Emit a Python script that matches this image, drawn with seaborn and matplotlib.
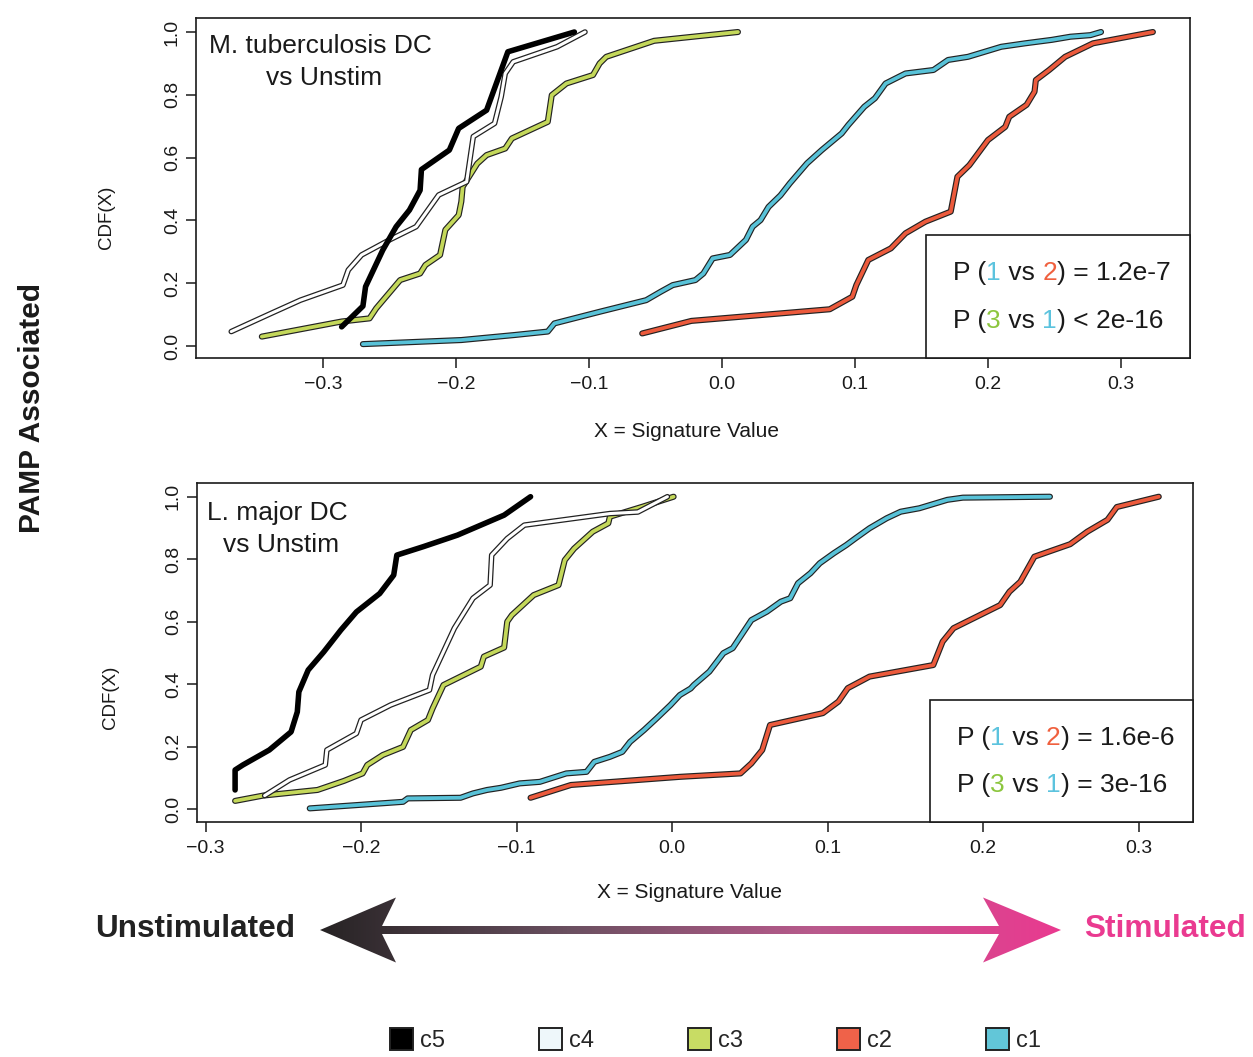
import matplotlib
matplotlib.use("Agg")
import numpy as np
import pandas as pd
import seaborn as sns
import matplotlib.pyplot as plt
import matplotlib.patheffects as pe
import matplotlib.transforms as mtransforms
from matplotlib.patches import Rectangle, Polygon, Patch
from matplotlib.colors import LinearSegmentedColormap

# ---------------- data ----------------
clusters = ["c5", "c4", "c3", "c2", "c1"]

# Top panel: M. tuberculosis DC vs Unstim
top_c5_x = [-0.286, -0.270, -0.268, -0.255, -0.245, -0.235, -0.227, -0.226, -0.205, -0.198, -0.177, -0.161, -0.111]
top_c5_y = [0.061, 0.127, 0.189, 0.306, 0.380, 0.433, 0.496, 0.562, 0.624, 0.693, 0.751, 0.937, 1.0]

top_c4_x = [-0.369, -0.339, -0.317, -0.285, -0.281, -0.271, -0.250, -0.230, -0.213, -0.192, -0.187, -0.171, -0.166, -0.163, -0.157, -0.124, -0.103]
top_c4_y = [0.046, 0.104, 0.146, 0.194, 0.242, 0.290, 0.338, 0.380, 0.481, 0.523, 0.667, 0.709, 0.794, 0.868, 0.905, 0.953, 1.0]

top_c3_x = [-0.346, -0.286, -0.265, -0.260, -0.242, -0.227, -0.223, -0.212, -0.208, -0.198, -0.196, -0.195, -0.184, -0.177, -0.163, -0.158, -0.131, -0.128, -0.117, -0.097, -0.092, -0.087, -0.051, 0.012]
top_c3_y = [0.030, 0.078, 0.088, 0.120, 0.210, 0.231, 0.258, 0.290, 0.370, 0.417, 0.460, 0.507, 0.581, 0.608, 0.629, 0.661, 0.714, 0.799, 0.836, 0.863, 0.900, 0.921, 0.972, 1.0]

top_c2_x = [-0.060, -0.023, 0.081, 0.098, 0.101, 0.110, 0.127, 0.138, 0.153, 0.172, 0.177, 0.186, 0.200, 0.213, 0.216, 0.229, 0.235, 0.236, 0.246, 0.258, 0.279, 0.324]
top_c2_y = [0.040, 0.080, 0.117, 0.157, 0.194, 0.274, 0.311, 0.359, 0.396, 0.428, 0.539, 0.576, 0.656, 0.698, 0.730, 0.768, 0.810, 0.847, 0.879, 0.921, 0.964, 1.0]

top_c1_x = [-0.270, -0.196, -0.156, -0.131, -0.126, -0.092, -0.057, -0.046, -0.037, -0.020, -0.014, -0.007, 0.006, 0.018, 0.023, 0.029, 0.035, 0.044, 0.051, 0.064, 0.075, 0.090, 0.095, 0.107, 0.115, 0.123, 0.138, 0.159, 0.170, 0.185, 0.210, 0.228, 0.248, 0.262, 0.277, 0.285]
top_c1_y = [0.006, 0.019, 0.035, 0.046, 0.072, 0.109, 0.146, 0.173, 0.194, 0.210, 0.231, 0.279, 0.290, 0.338, 0.380, 0.401, 0.443, 0.480, 0.518, 0.582, 0.624, 0.677, 0.704, 0.762, 0.789, 0.836, 0.868, 0.879, 0.911, 0.921, 0.953, 0.964, 0.975, 0.985, 0.990, 1.0]

# Bottom panel: L. major DC vs Unstim
bot_c5_x = [-0.281, -0.281, -0.276, -0.259, -0.245, -0.241, -0.240, -0.234, -0.224, -0.213, -0.203, -0.188, -0.179, -0.177, -0.160, -0.138, -0.108, -0.091]
bot_c5_y = [0.061, 0.125, 0.141, 0.189, 0.247, 0.311, 0.375, 0.445, 0.503, 0.573, 0.631, 0.690, 0.749, 0.813, 0.840, 0.877, 0.941, 1.0]

bot_c4_x = [-0.262, -0.246, -0.223, -0.222, -0.203, -0.200, -0.181, -0.156, -0.154, -0.140, -0.128, -0.117, -0.116, -0.106, -0.095, -0.040, -0.022, -0.003]
bot_c4_y = [0.043, 0.093, 0.141, 0.189, 0.242, 0.285, 0.333, 0.381, 0.429, 0.579, 0.675, 0.717, 0.813, 0.866, 0.909, 0.946, 0.951, 1.0]

bot_c3_x = [-0.281, -0.263, -0.228, -0.211, -0.199, -0.196, -0.186, -0.173, -0.168, -0.157, -0.154, -0.147, -0.123, -0.121, -0.108, -0.106, -0.103, -0.089, -0.073, -0.069, -0.063, -0.051, -0.041, -0.040, -0.019, 0.001]
bot_c3_y = [0.026, 0.043, 0.061, 0.090, 0.114, 0.141, 0.173, 0.199, 0.253, 0.285, 0.322, 0.397, 0.456, 0.488, 0.517, 0.600, 0.621, 0.685, 0.717, 0.797, 0.834, 0.888, 0.915, 0.936, 0.968, 1.0]

bot_c2_x = [-0.091, -0.065, 0.005, 0.044, 0.051, 0.058, 0.063, 0.097, 0.107, 0.113, 0.127, 0.168, 0.174, 0.181, 0.211, 0.217, 0.224, 0.233, 0.256, 0.267, 0.280, 0.286, 0.313]
bot_c2_y = [0.036, 0.077, 0.103, 0.114, 0.146, 0.189, 0.269, 0.307, 0.344, 0.387, 0.424, 0.461, 0.536, 0.579, 0.653, 0.696, 0.728, 0.808, 0.848, 0.888, 0.926, 0.967, 1.0]

bot_c1_x = [-0.233, -0.173, -0.170, -0.136, -0.128, -0.119, -0.110, -0.098, -0.085, -0.068, -0.055, -0.050, -0.040, -0.032, -0.027, -0.018, -0.010, -0.001, 0.005, 0.012, 0.014, 0.024, 0.033, 0.039, 0.051, 0.061, 0.070, 0.076, 0.081, 0.089, 0.095, 0.104, 0.112, 0.118, 0.127, 0.138, 0.147, 0.159, 0.177, 0.187, 0.243]
bot_c1_y = [0.002, 0.023, 0.034, 0.036, 0.050, 0.061, 0.068, 0.082, 0.087, 0.114, 0.119, 0.151, 0.167, 0.183, 0.215, 0.253, 0.290, 0.333, 0.365, 0.386, 0.397, 0.440, 0.499, 0.515, 0.605, 0.632, 0.664, 0.675, 0.723, 0.755, 0.787, 0.819, 0.845, 0.867, 0.899, 0.931, 0.952, 0.963, 0.990, 0.997, 1.0]

x_ticks = [-0.3, -0.2, -0.1, 0.0, 0.1, 0.2, 0.3]
y_ticks = [0.0, 0.2, 0.4, 0.6, 0.8, 1.0]

panel_titles = [["M. tuberculosis DC", "vs Unstim"], ["L. major DC", "vs Unstim"]]
pval_lines = [
    [[("P (", "k"), ("1", "c1"), (" vs ", "k"), ("2", "c2"), (") = 1.2e-7", "k")],
     [("P (", "k"), ("3", "c3"), (" vs ", "k"), ("1", "c1"), (") < 2e-16", "k")]],
    [[("P (", "k"), ("1", "c1"), (" vs ", "k"), ("2", "c2"), (") = 1.6e-6", "k")],
     [("P (", "k"), ("3", "c3"), (" vs ", "k"), ("1", "c1"), (") = 3e-16", "k")]],
]

# ---------------- style ----------------
sns.set_theme(style="ticks")
plt.rcParams["font.family"] = ["Liberation Sans", "DejaVu Sans"]
plt.rcParams["axes.unicode_minus"] = True

line_colors = {"c5": "#000000", "c4": "#ffffff", "c3": "#c4d85a", "c2": "#ec5a3c", "c1": "#58c2d8"}
legend_colors = {"c5": "#000000", "c4": "#eef7fa", "c3": "#c8dc64", "c2": "#ef6249", "c1": "#62c6d8"}
text_colors = {"k": "#1a1a1a", "c1": "#5cc3de", "c2": "#f0603e", "c3": "#8cc63e"}

W, H = 1253, 1057
fig = plt.figure(figsize=(W / 100, H / 100), dpi=100)
fig.patch.set_facecolor("white")

def frac(l, t, r, b):
    return [l / W, 1 - b / H, (r - l) / W, (b - t) / H]

ax_top = fig.add_axes(frac(196, 18, 1190, 358))
ax_bot = fig.add_axes(frac(197, 483, 1193, 822))

data_top = {"c5": (top_c5_x, top_c5_y), "c4": (top_c4_x, top_c4_y), "c3": (top_c3_x, top_c3_y),
            "c2": (top_c2_x, top_c2_y), "c1": (top_c1_x, top_c1_y)}
data_bot = {"c5": (bot_c5_x, bot_c5_y), "c4": (bot_c4_x, bot_c4_y), "c3": (bot_c3_x, bot_c3_y),
            "c2": (bot_c2_x, bot_c2_y), "c1": (bot_c1_x, bot_c1_y)}

def build_df(d):
    rows = []
    for c in clusters:
        xs, ys = d[c]
        for i, (xv, yv) in enumerate(zip(xs, ys)):
            rows.append({"cluster": c, "order": i, "x": xv, "y": yv})
    return pd.DataFrame(rows)

draw_order = ["c1", "c2", "c3", "c4", "c5"]

def draw_panel(ax, df, xlim, ylim, title, tpos, pv, box, tx, ty, xlab_pos, ylab_pos):
    for c in draw_order:
        sub = df[df["cluster"] == c]
        if c == "c5":
            sns.lineplot(data=sub, x="x", y="y", sort=False, estimator=None, ax=ax,
                         color="black", lw=4.0, legend=False, solid_capstyle="round",
                         solid_joinstyle="round", zorder=5)
        elif c == "c4":
            sns.lineplot(data=sub, x="x", y="y", sort=False, estimator=None, ax=ax,
                         color="white", lw=2.2, legend=False, solid_capstyle="round",
                         solid_joinstyle="round", zorder=4,
                         path_effects=[pe.Stroke(linewidth=4.0, foreground="#222222"), pe.Normal()])
        else:
            sns.lineplot(data=sub, x="x", y="y", sort=False, estimator=None, ax=ax,
                         color=line_colors[c], lw=2.7, legend=False, solid_capstyle="round",
                         solid_joinstyle="round", zorder=3,
                         path_effects=[pe.Stroke(linewidth=4.4, foreground="#222222"), pe.Normal()])
    ax.set_xlim(*xlim)
    ax.set_ylim(*ylim)
    ax.set_xticks(x_ticks)
    ax.set_yticks(y_ticks)
    ax.set_xticklabels([f"{v:.1f}".replace("-", "\u2212") for v in x_ticks])
    ax.set_yticklabels([f"{v:.1f}" for v in y_ticks])
    for s in ax.spines.values():
        s.set_visible(True)
        s.set_linewidth(1.2)
        s.set_color("#1a1a1a")
    ax.tick_params(axis="both", direction="out", length=7, width=1.1, color="#1a1a1a",
                   labelsize=14, labelcolor="#1a1a1a")
    ax.tick_params(axis="x", pad=6)
    ax.tick_params(axis="y", pad=10, labelrotation=90)
    plt.setp(ax.get_yticklabels(), va="center", ha="center")
    ax.set_xlabel("X = Signature Value", fontsize=15, color="#1a1a1a")
    ax.xaxis.label.set_va("center")
    ax.xaxis.set_label_coords(*xlab_pos)
    ax.set_ylabel("CDF(X)", fontsize=13.5, color="#1a1a1a")
    ax.yaxis.label.set_va("center")
    ax.yaxis.set_label_coords(*ylab_pos)
    ax.set_facecolor("white")
    # title
    ax.text(tpos[0], tpos[1], title[0], transform=ax.transAxes, ha="center", va="center",
            fontsize=19, color="#1a1a1a", zorder=6)
    ax.text(tpos[2], tpos[3], title[1], transform=ax.transAxes, ha="center", va="center",
            fontsize=19, color="#1a1a1a", zorder=6)
    # p-value box
    ax.add_patch(Rectangle((box[0], 0), 1 - box[0], box[1], transform=ax.transAxes,
                           facecolor="white", edgecolor="#1a1a1a", lw=1.2, zorder=6, clip_on=False))
    renderer = fig.canvas.get_renderer()
    for line, yy in zip(pv, ty):
        t = ax.transAxes
        for s, ck in line:
            txt = ax.text(tx, yy, s, color=text_colors[ck], transform=t, fontsize=19,
                          va="center", ha="left", zorder=7)
            txt.draw(renderer)
            ex = txt.get_window_extent(renderer)
            t = mtransforms.offset_copy(txt.get_transform(), x=ex.width, units="dots")

draw_panel(ax_top, build_df(data_top), (-0.3955, 0.3519), (-0.0382, 1.0446), panel_titles[0],
           (0.1247, 0.918, 0.1287, 0.824), pval_lines[0], (0.7344, 0.3618), 0.7616, (0.25, 0.109),
           (0.493, -0.2176), (-0.0905, 0.415))
draw_panel(ax_bot, build_df(data_bot), (-0.3055, 0.335), (-0.0416, 1.0439), panel_titles[1],
           (0.0803, 0.9115, 0.0843, 0.817), pval_lines[1], (0.7359, 0.36), 0.763, (0.248, 0.109),
           (0.494, -0.209), (-0.0873, 0.369))

# ---------------- overlay: arrow, side texts ----------------
ov = fig.add_axes([0, 0, 1, 1], zorder=10)
ov.axis("off")

arrow_pts = [(320, 930), (396, 897.5), (382, 926), (999, 926), (983, 897.5), (1061, 930),
             (983, 962.5), (999, 934), (382, 934), (396, 962.5)]
poly = Polygon(arrow_pts, closed=True, facecolor="none", edgecolor="none")
ov.add_patch(poly)
cmap = LinearSegmentedColormap.from_list("g", ["#262324", "#6a5060", "#b85a8c", "#ea3a90"])
grad = np.linspace(0, 1, 512)[None, :]
im = ov.imshow(grad, extent=(320, 1061, 963, 897), cmap=cmap, aspect="auto", interpolation="bilinear")
im.set_clip_path(poly)
ov.set_xlim(0, W)
ov.set_ylim(H, 0)

ov.text(95, 929, "Unstimulated", fontsize=22.7, fontweight="bold", color="#222222", ha="left", va="center")
ov.text(1246, 929, "Stimulated", fontsize=22.8, fontweight="bold", color="#ea3a90", ha="right", va="center")
ov.text(32, 408, "PAMP Associated", fontsize=21.5, fontweight="bold", color="#1a1a1a",
        ha="center", va="center", rotation=90)

handles = [Patch(facecolor=legend_colors[c], edgecolor="#222222", linewidth=1.4) for c in clusters]
fig.legend(handles, clusters, loc="center", bbox_to_anchor=(0.571, 0.016), ncol=5, frameon=False,
           fontsize=17, handlelength=0.95, handleheight=1.05, handletextpad=0.3, columnspacing=4.0)

fig.savefig("out.png", dpi=100, facecolor="white")
